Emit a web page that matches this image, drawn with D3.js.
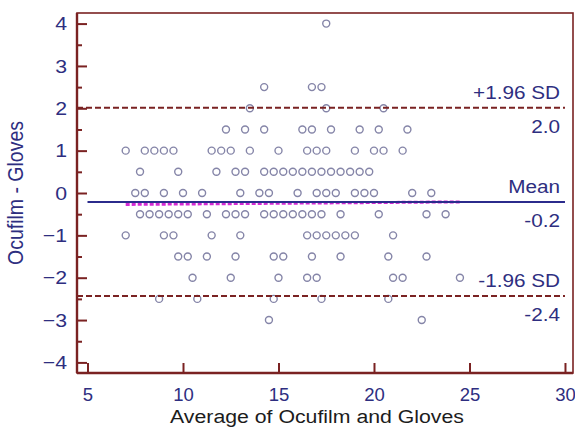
<!DOCTYPE html>
<html>
<head>
<meta charset="utf-8">
<script src="https://cdn.jsdelivr.net/npm/d3@7"></script>
<style>
  body { margin: 0; background: #fff; }
  text { font-family: "Liberation Sans", Arial, sans-serif; }
</style>
</head>
<body>
<div id="chart"></div>
<script>
// difference levels (Ocufilm - Gloves) and the averages read at each level
const diffLevels = [4, 2.5, 2, 1.5, 1, 0.5, 0, -0.5, -1, -1.5, -2, -2.5, -3];
const avgByLevel = [
  [17.5],
  [14.25, 16.75, 17.25],
  [13.5, 17.5, 20.5],
  [12.25, 13.25, 14.25, 16.25, 16.75, 17.75, 19.25, 20.25, 21.75],
  [7, 8, 8.5, 9, 9.5, 11.5, 12, 12.5, 13.5, 15, 16.5, 17, 17.5, 19, 20, 20.5, 21.5],
  [7.75, 9.75, 11.75, 12.75, 13.25, 14.25, 14.75, 15.25, 15.75, 16.25, 16.75, 17.25, 17.75, 18.25, 18.75, 19.25, 19.75],
  [7.5, 8, 9, 10, 11, 13, 14, 14.5, 16, 17, 17.5, 18, 19, 19.5, 20, 22, 23],
  [7.75, 8.25, 8.75, 9.25, 9.75, 10.25, 11.25, 12.25, 12.75, 13.25, 14.25, 14.75, 15.25, 15.75, 16.25, 16.75, 17.25, 18.25, 20.25, 22.75, 23.75],
  [7, 9, 9.5, 11.5, 13, 16.5, 17, 17.5, 18, 18.5, 19, 21],
  [9.75, 10.25, 11.25, 12.75, 14.75, 15.25, 16.75, 18.25, 20.75, 22.75],
  [10.5, 12.5, 15, 16.5, 17, 21, 21.5, 24.5],
  [8.75, 10.75, 14.75, 17.25, 20.75],
  [14.5, 22.5]
];

// reference lines
const meanDiff = -0.21, upperLoA = 2.01, lowerLoA = -2.43;
const lineLabels = [
  {name: "+1.96 SD", value: "2.0", level: upperLoA},
  {name: "Mean", value: "-0.2", level: meanDiff},
  {name: "-1.96 SD", value: "-2.4", level: lowerLoA}
];
// fitted trend of differences (start / end)
const trendX = [7, 24.5];
const trendY = [-0.27, -0.21];

const xTicks = [5, 10, 15, 20, 25, 30];
const yTicks = [-4, -3, -2, -1, 0, 1, 2, 3, 4];
const yMinorTicks = [-3.5, -2.5, -1.5, -0.5, 0.5, 1.5, 2.5, 3.5];

const W = 575, H = 428;
const frame = {left: 77, right: 573, top: 13, bottom: 373};
const frameColor = "#7a2222", navy = "#2e2e80", sx = 1.12;

const svg = d3.select("#chart").append("svg")
    .attr("width", W).attr("height", H);

const x = d3.scaleLinear().domain([4.45, 30.42]).range([frame.left, frame.right]);
const y = d3.scaleLinear().domain([-4.25, 4.25]).range([frame.bottom, frame.top]);

// ---------- frame ----------
svg.append("rect")
    .attr("x", frame.left).attr("y", frame.top)
    .attr("width", frame.right - frame.left).attr("height", frame.bottom - frame.top)
    .attr("fill", "none").attr("stroke", frameColor).attr("stroke-width", 1.6);

// ---------- axes ----------
const yAxis = svg.append("g")
    .attr("transform", `translate(${frame.left},0)`)
    .call(d3.axisLeft(y).tickValues(yTicks).tickSizeInner(-10).tickSizeOuter(0).tickPadding(10)
      .tickFormat(d3.format("d")));
svg.append("g")
    .attr("transform", `translate(${frame.left},0)`)
    .call(d3.axisLeft(y).tickValues(yMinorTicks).tickSizeInner(-5).tickSizeOuter(0).tickFormat(""));

const xAxis = svg.append("g")
    .attr("transform", `translate(0,${frame.bottom})`)
    .call(d3.axisBottom(x).tickValues(xTicks).tickSizeInner(-10).tickSizeOuter(0).tickPadding(15));

svg.selectAll(".domain").remove();
svg.selectAll(".tick line").attr("stroke", frameColor).attr("stroke-width", 2);
yAxis.selectAll(".tick text")
    .attr("fill", navy).style("font-size", "19px")
    .attr("transform", `scale(${sx},1)`)
    .each(function() {
      const t = d3.select(this);
      t.attr("x", +t.attr("x") / sx || 0);
    });
// x labels: slightly narrower so "30" stays inside the page
xAxis.selectAll(".tick text")
    .attr("fill", navy).style("font-size", "18.5px");

// thicker left / bottom axis lines
svg.append("line").attr("x1", frame.left).attr("x2", frame.left)
    .attr("y1", frame.top).attr("y2", frame.bottom)
    .attr("stroke", frameColor).attr("stroke-width", 2.4);
svg.append("line").attr("x1", frame.left).attr("x2", frame.right)
    .attr("y1", frame.bottom).attr("y2", frame.bottom)
    .attr("stroke", frameColor).attr("stroke-width", 2.4);

// ---------- points ----------
const points = [];
diffLevels.forEach((d, i) => avgByLevel[i].forEach(a => points.push({avg: a, diff: d})));

svg.append("g").selectAll("circle")
    .data(points)
    .enter()
    .append("circle")
    .attr("cx", d => x(d.avg))
    .attr("cy", d => y(d.diff))
    .attr("r", 3.5)
    .attr("fill", "none")
    .attr("stroke", "#8585a8")
    .attr("stroke-width", 1.4);

// ---------- reference lines ----------
[upperLoA, lowerLoA].forEach(v => {
  svg.append("line")
      .attr("x1", frame.left).attr("x2", x(30))
      .attr("y1", y(v)).attr("y2", y(v))
      .attr("stroke", frameColor).attr("stroke-width", 2)
      .attr("stroke-dasharray", "6,3");
});

svg.append("line")
    .attr("x1", x(trendX[0])).attr("x2", x(trendX[1]))
    .attr("y1", y(trendY[0])).attr("y2", y(trendY[1]))
    .attr("stroke", "#d42ad4").attr("stroke-width", 3)
    .attr("stroke-dasharray", "4,2");

svg.append("line")
    .attr("x1", x(5)).attr("x2", x(30))
    .attr("y1", y(meanDiff)).attr("y2", y(meanDiff))
    .attr("stroke", "#2b2b8c").attr("stroke-width", 2);

// ---------- line labels ----------
const labelRight = 560;
lineLabels.forEach(l => {
  const base = y(l.level);
  svg.append("text")
      .attr("transform", `translate(${labelRight},${base - 9}) scale(${sx},1)`)
      .attr("text-anchor", "end").attr("fill", navy)
      .style("font-size", "18.5px").text(l.name);
  svg.append("text")
      .attr("transform", `translate(${labelRight},${base + 25}) scale(${sx},1)`)
      .attr("text-anchor", "end").attr("fill", navy)
      .style("font-size", "18.5px").text(l.value);
});

// ---------- axis titles ----------
svg.append("text")
    .attr("transform", `translate(317,423) scale(${sx},1)`)
    .attr("text-anchor", "middle").attr("fill", "#1c1c1c")
    .style("font-size", "19px")
    .text("Average of Ocufilm and Gloves");

svg.append("text")
    .attr("transform", `translate(23,193) rotate(-90) scale(1,${sx})`)
    .attr("text-anchor", "middle").attr("fill", navy)
    .style("font-size", "19.5px")
    .text("Ocufilm - Gloves");
</script>
</body>
</html>
